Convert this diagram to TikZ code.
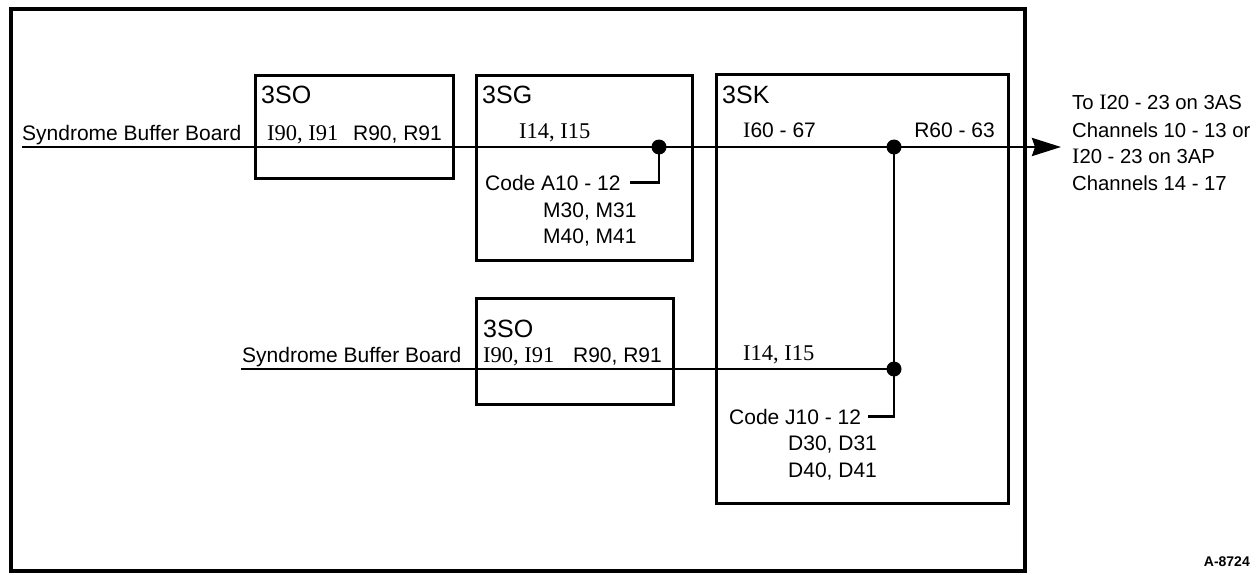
\documentclass[tikz,border=0pt]{standalone}
\usepackage{fontspec}
\setmainfont{Liberation Sans}
\newfontfamily\srf{Liberation Serif}
\usetikzlibrary{arrows.meta}
\newcommand\SI{{\srf\fontsize{22}{24}\selectfont I}}
\newcommand\SR{\srf\fontsize{22.5}{24}\selectfont}
\begin{document}
\begin{tikzpicture}[x=1pt,y=-1pt,
  boxst/.style={draw,line width=2.8pt,inner sep=0,anchor=north west},
  frame/.style={draw,line width=4pt},
  sig/.style={line width=2.8pt},
  dot/.style={circle,fill,inner sep=0,minimum size=15pt},
  lbl/.style={inner sep=0,anchor=base west,font=\fontsize{21}{24}\selectfont},
  lblr/.style={inner sep=0,anchor=base east,font=\fontsize{21}{24}\selectfont},
  rtxt/.style={inner sep=0,anchor=base west,font=\fontsize{20.3}{24}\selectfont},
  head/.style={inner sep=0,anchor=base west,font=\fontsize{25}{28}\selectfont},
]
\useasboundingbox (0,0) rectangle (1257,575);
% outer frame
\draw[frame] (11,9) rectangle (1025,571);
% boxes
\node[boxst,minimum width=198pt,minimum height=103pt] (so1) at (254,74) {};
\node[boxst,minimum width=216pt,minimum height=185pt] (sg) at (475,74) {};
\node[boxst,minimum width=292pt,minimum height=429pt] (sk) at (715,73) {};
\node[boxst,minimum width=197pt,minimum height=106pt] (so2) at (475,297) {};
% headings
\node[head] (h1) at (261,103) {3SO};
\node[head] (h2) at (482,103) {3SG};
\node[head] (h3) at (722,103) {3SK};
\node[head] (h4) at (483,337) {3SO};
% labels row 1
\node[lbl] (sbb1) at (22,140) {Syndrome Buffer Board};
\node[lbl] (i90a) at (267,140) {\SR I90, I91};
\node[lblr] (r90a) at (442,140) {R90, R91};
\node[lbl] (i14a) at (519,139) {\SR I14, I15};
\node[lbl] (i60) at (743,138) {\SI60 - 67};
\node[lblr] (r60) at (995,138) {R60 - 63};
% code A
\node[lbl] (codeA) at (485,190) {Code A10 - 12};
\node[lbl] (m30) at (543,217) {M30, M31};
\node[lbl] (m40) at (543,243) {M40, M41};
% row 2
\node[lbl] (sbb2) at (242,362) {Syndrome Buffer Board};
\node[lbl] (i90b) at (483,362) {\SR I90, I91};
\node[lblr] (r90b) at (662,362) {R90, R91};
\node[lbl] (i14b) at (743,360) {\SR I14, I15};
% code J
\node[lbl] (codeJ) at (729,424) {Code J10 - 12};
\node[lbl] (d30) at (788,450) {D30, D31};
\node[lbl] (d40) at (788,477) {D40, D41};
% right text
\node[rtxt] (t1) at (1072,110) {To \SI20 - 23 on 3AS};
\node[rtxt] (t2) at (1072,137) {Channels 10 - 13 or};
\node[rtxt] (t3) at (1072,163) {\SI20 - 23 on 3AP};
\node[rtxt] (t4) at (1072,190) {Channels 14 - 17};
% figure id
\node[inner sep=0,anchor=base east,font=\fontsize{14}{16}\selectfont\bfseries] (fid) at (1250,566) {A-8724};
% dots
\node[dot] (d1) at (659,147) {};
\node[dot] (d2) at (894,147) {};
\node[dot] (d3) at (894,369) {};
% connectors
\coordinate (in1) at (22,147);
\coordinate (in2) at (241,369);
\coordinate (out) at (1061,147);
\draw[sig,-{Stealth[length=29pt,width=18pt,inset=3pt]}] (in1) -- (d1.center) -- (d2.center) -- (out);
\draw[sig] (in2) -- (d3.center);
\draw[sig] (d2.center) -- (d3.center);
\draw[sig] (d1.center) |- ([xshift=9pt]codeA.east);
\draw[sig] (d3.center) |- ([xshift=7pt]codeJ.east);
\end{tikzpicture}
\end{document}
